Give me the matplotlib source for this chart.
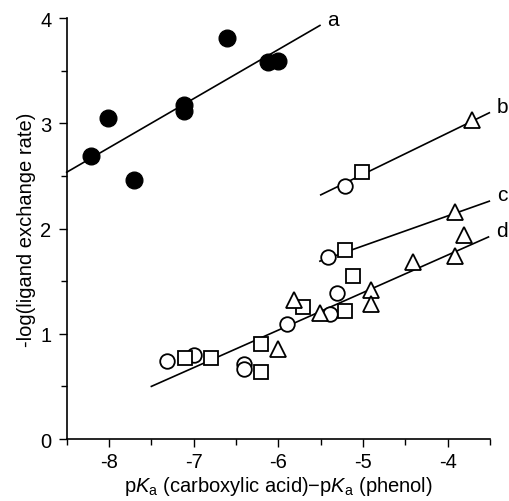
import matplotlib
matplotlib.use("Agg")
import matplotlib.pyplot as plt
from matplotlib.ticker import MultipleLocator

plt.rcParams["font.family"] = "Liberation Sans"
plt.rcParams["mathtext.fontset"] = "custom"
plt.rcParams["mathtext.rm"] = "Liberation Sans"
plt.rcParams["mathtext.it"] = "Liberation Sans:italic"

# series a: filled circles
a_x = [-8.21, -8.01, -7.71, -7.11, -7.11, -6.61, -6.12, -6.00]
a_y = [2.69, 3.05, 2.46, 3.17, 3.12, 3.81, 3.58, 3.59]

# open symbols (circles / squares / triangles)
circ_x = [-5.21, -5.41, -7.31, -7.00, -6.41, -6.41, -5.90, -5.39, -5.31]
circ_y = [2.40, 1.73, 0.74, 0.80, 0.71, 0.665, 1.09, 1.19, 1.39]
sq_x = [-5.01, -5.21, -7.10, -6.80, -6.21, -6.21, -5.71, -5.21, -5.12]
sq_y = [2.54, 1.80, 0.77, 0.77, 0.64, 0.90, 1.25, 1.22, 1.55]
tri_x = [-3.71, -3.92, -6.00, -5.82, -5.51, -4.91, -4.91, -4.41, -3.92, -3.81]
tri_y = [3.03, 2.16, 0.86, 1.32, 1.20, 1.42, 1.28, 1.68, 1.74, 1.94]

# fitted lines: (x0, x1), (y0, y1)
lines = {
    "a": ([-8.50, -5.51], [2.535, 3.93]),
    "b": ([-5.50, -3.51], [2.32, 3.10]),
    "c": ([-5.51, -3.51], [1.69, 2.26]),
    "d": ([-7.50, -3.52], [0.50, 1.92]),
}

fig = plt.figure(figsize=(5.09, 5.02), dpi=100)
ax = fig.add_axes([0.131, 0.1235, 0.832, 0.8385])

for name, (lx, ly) in lines.items():
    ax.plot(lx, ly, color="black", lw=1.2, zorder=2, clip_on=False)
    ax.text(lx[1] + 0.09, ly[1] + 0.06, name, fontsize=15, ha="left", va="center")

ax.plot(a_x, a_y, "o", color="black", ms=12, zorder=3, clip_on=False)
ax.plot(circ_x, circ_y, "o", mfc="white", mec="black", mew=1.3, ms=10.5, zorder=3, clip_on=False)
ax.plot(sq_x, sq_y, "s", mfc="white", mec="black", mew=1.3, ms=9.5, zorder=3, clip_on=False)
ax.plot(tri_x, tri_y, "^", mfc="white", mec="black", mew=1.3, ms=11.5, zorder=3, clip_on=False)

ax.set_xlim(-8.5, -3.5)
ax.set_ylim(0, 4)
ax.xaxis.set_minor_locator(MultipleLocator(0.5))
ax.yaxis.set_minor_locator(MultipleLocator(0.5))
ax.set_xticks([-8, -7, -6, -5, -4])
ax.set_xticklabels(["-8", "-7", "-6", "-5", "-4"])
ax.set_yticks([0, 1, 2, 3, 4])
ax.set_yticklabels(["0", "1", "2", "3", "4"])
ax.tick_params(which="major", length=6, width=1, labelsize=14.5, direction="out")
ax.tick_params(axis="y", which="major", pad=5)
ax.tick_params(which="minor", length=4, width=1, direction="out")
ax.spines["top"].set_visible(False)
ax.spines["right"].set_visible(False)
for s in ("left", "bottom"):
    ax.spines[s].set_linewidth(1.2)

ax.set_ylabel("-log(ligand exchange rate)", fontsize=14.5, labelpad=3)
ax.set_xlabel("p$K_\\mathrm{a}$ (carboxylic acid)\u2212p$K_\\mathrm{a}$ (phenol)",
              fontsize=14.5, labelpad=2)

fig.savefig("out.png", dpi=100)
